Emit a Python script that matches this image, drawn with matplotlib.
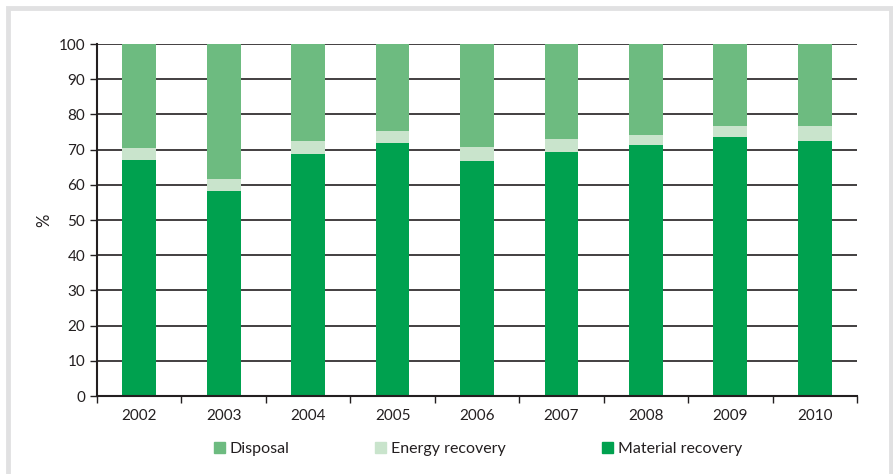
import matplotlib.pyplot as plt
import matplotlib.patches as mpatches
import numpy as np

# ── data ────────────────────────────────────────
years    = ['2002', '2003', '2004', '2005', '2006', '2007', '2008', '2009', '2010']
material = [67.1, 58.2, 68.8, 72.0, 66.8, 69.2, 71.4, 73.7, 72.5]
energy   = [3.4, 3.5, 3.7, 3.3, 4.0, 3.7, 2.8, 3.1, 4.3]
disposal = [100 - m - e for m, e in zip(material, energy)]

c_mat = '#00a14f'
c_en  = '#c9e4cc'
c_dis = '#6dbb80'

plt.rcParams['font.family'] = ['Lato', 'DejaVu Sans']

fig = plt.figure(figsize=(8.93, 4.74), dpi=100)
ax = fig.add_axes([97/893, 1 - 396/474, 760/893, 352/474])

x = np.arange(len(years))
w = 0.4
ax.bar(x, material, w, color=c_mat, zorder=3)
ax.bar(x, energy, w, bottom=material, color=c_en, zorder=3)
ax.bar(x, disposal, w, bottom=np.add(material, energy), color=c_dis, zorder=3)

ax.set_xlim(-0.5, len(years) - 0.5)
ax.set_ylim(0, 100)
ax.set_yticks(np.arange(0, 101, 10))
ax.set_xticks(x)
ax.set_xticklabels(years)
ax.set_xticks(np.arange(-0.5, len(years), 1), minor=True)
ax.tick_params(axis='x', which='major', length=0, pad=9, labelsize=11, colors='#231f20')
ax.tick_params(axis='x', which='minor', length=5, width=1, color='#231f20')
ax.tick_params(axis='y', length=5, width=1, labelsize=11, color='#231f20', labelcolor='#231f20')
ax.grid(axis='y', color='#231f20', linewidth=1.2, zorder=1)
ax.set_axisbelow(True)
for s in ['top', 'right']:
    ax.spines[s].set_visible(False)
for s in ['left', 'bottom']:
    ax.spines[s].set_linewidth(1.5)
    ax.spines[s].set_color('#231f20')
    ax.spines[s].set_zorder(4)
fig.text(44/893, 1 - 220/474, '%', rotation=90, ha='center', va='center',
         fontsize=12, color='#231f20')

# ── legend ──────────────────────────────────────
items = [('Disposal', c_dis, 214), ('Energy recovery', c_en, 375), ('Material recovery', c_mat, 602)]
for lab, col, px in items:
    leg = fig.legend(handles=[mpatches.Patch(color=col, label=lab)],
                     loc='center left', bbox_to_anchor=(px/893, 1 - 449/474),
                     frameon=False, fontsize=11.5, handlelength=0.7, handleheight=0.7,
                     handletextpad=0.3, borderpad=0, borderaxespad=0)
    for t in leg.get_texts():
        t.set_color('#231f20')

# ── outer frame ─────────────────────────────────
fig.patches.append(mpatches.Rectangle((7.5/893, -0.1), 883/893, 1.1 - 8/474,
                                      transform=fig.transFigure, fill=False,
                                      edgecolor='#e1e1e2', linewidth=3.5))

fig.savefig('out.png', dpi=100)
